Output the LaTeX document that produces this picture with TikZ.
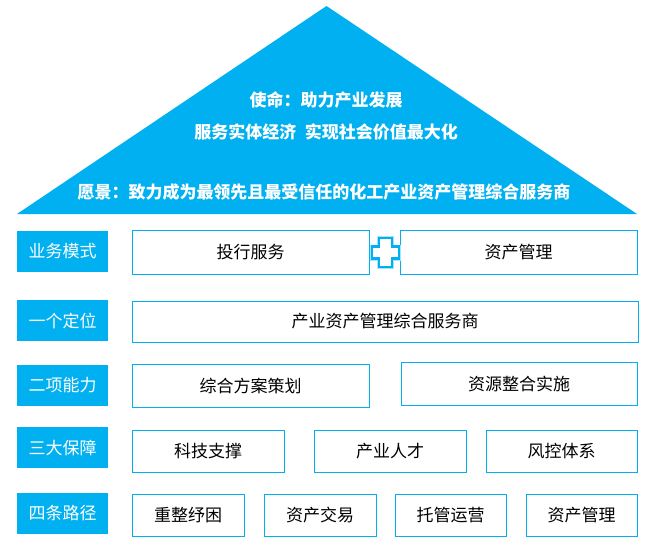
\documentclass[tikz,border=0pt]{standalone}
\usepackage{fontspec}
\newfontfamily\cjk{Noto Sans CJK SC}
\definecolor{cy}{HTML}{00B0F0}
\tikzset{
  lab/.style={fill=cy, text=white, minimum width=91pt, minimum height=41pt, inner sep=0pt, font=\cjk\fontsize{17}{19}\selectfont},
  box/.style={draw=cy, line width=1pt, fill=white, text=black, minimum height=42pt, inner sep=0pt, font=\cjk\fontsize{17}{19}\selectfont},
  tri/.style={text=white, inner sep=0pt, font=\cjk\bfseries\fontsize{17}{19}\selectfont}
}
\begin{document}
\begin{tikzpicture}[x=1pt,y=-1pt]
\useasboundingbox (0,0) rectangle (659,550);
\fill[white] (0,0) rectangle (659,550);
% triangle
\fill[cy] (326.5,6) -- (637,214) -- (17,214) -- cycle;
\node[tri] (m1) at (326,100) {使命：助力产业发展};
\node[tri] (m2) at (326,132) {服务实体经济\hspace{0.5em}实现社会价值最大化};
\node[tri] (m3) at (324,192) {愿景：致力成为最领先且最受信任的化工产业资产管理综合服务商};
% row 1
\node[lab] (l1) at (62.5,251.5) {业务模式};
\node[box, minimum width=237pt, minimum height=44pt] (b11) at (250.5,252) {投行服务};
\node[box, minimum width=237pt, minimum height=44pt] (b12) at (518.5,252) {资产管理};
% plus
\begin{scope}[shift={(385.5,252.5)}]
\draw[cy!35, line width=4pt, line join=miter] (-6.5,-14.5) -- (6.5,-14.5) -- (6.5,-6) -- (13.5,-6) -- (13.5,6) -- (6.5,6) -- (6.5,14.5) -- (-6.5,14.5) -- (-6.5,6) -- (-13.5,6) -- (-13.5,-6) -- (-6.5,-6) -- cycle;
\draw[cy, fill=white, line width=2.2pt, line join=miter] (-6.5,-14.5) -- (6.5,-14.5) -- (6.5,-6) -- (13.5,-6) -- (13.5,6) -- (6.5,6) -- (6.5,14.5) -- (-6.5,14.5) -- (-6.5,6) -- (-13.5,6) -- (-13.5,-6) -- (-6.5,-6) -- cycle;
\end{scope}
% row 2
\node[lab] (l2) at (62.5,320.5) {一个定位};
\node[box, minimum width=506pt, minimum height=41pt] (b21) at (385,321.5) {产业资产管理综合服务商};
% row 3
\node[lab] (l3) at (62.5,385.5) {二项能力};
\node[box, minimum width=237pt, minimum height=43pt] (b31) at (250.5,385.5) {综合方案策划};
\node[box, minimum width=236pt, minimum height=43pt] (b32) at (519,383.5) {资源整合实施};
% row 4
\node[lab] (l4) at (62.5,447.5) {三大保障};
\node[box, minimum width=152pt] (b41) at (208,451) {科技支撑};
\node[box, minimum width=152pt] (b42) at (390,451) {产业人才};
\node[box, minimum width=151pt] (b43) at (561.5,451) {风控体系};
% row 5
\node[lab] (l5) at (62.5,513.5) {四条路径};
\node[box, minimum width=112pt] (b51) at (188,515) {重整纾困};
\node[box, minimum width=112pt] (b52) at (320,515) {资产交易};
\node[box, minimum width=111pt] (b53) at (450.5,515) {托管运营};
\node[box, minimum width=111pt] (b54) at (581.5,515) {资产管理};
\end{tikzpicture}
\end{document}
